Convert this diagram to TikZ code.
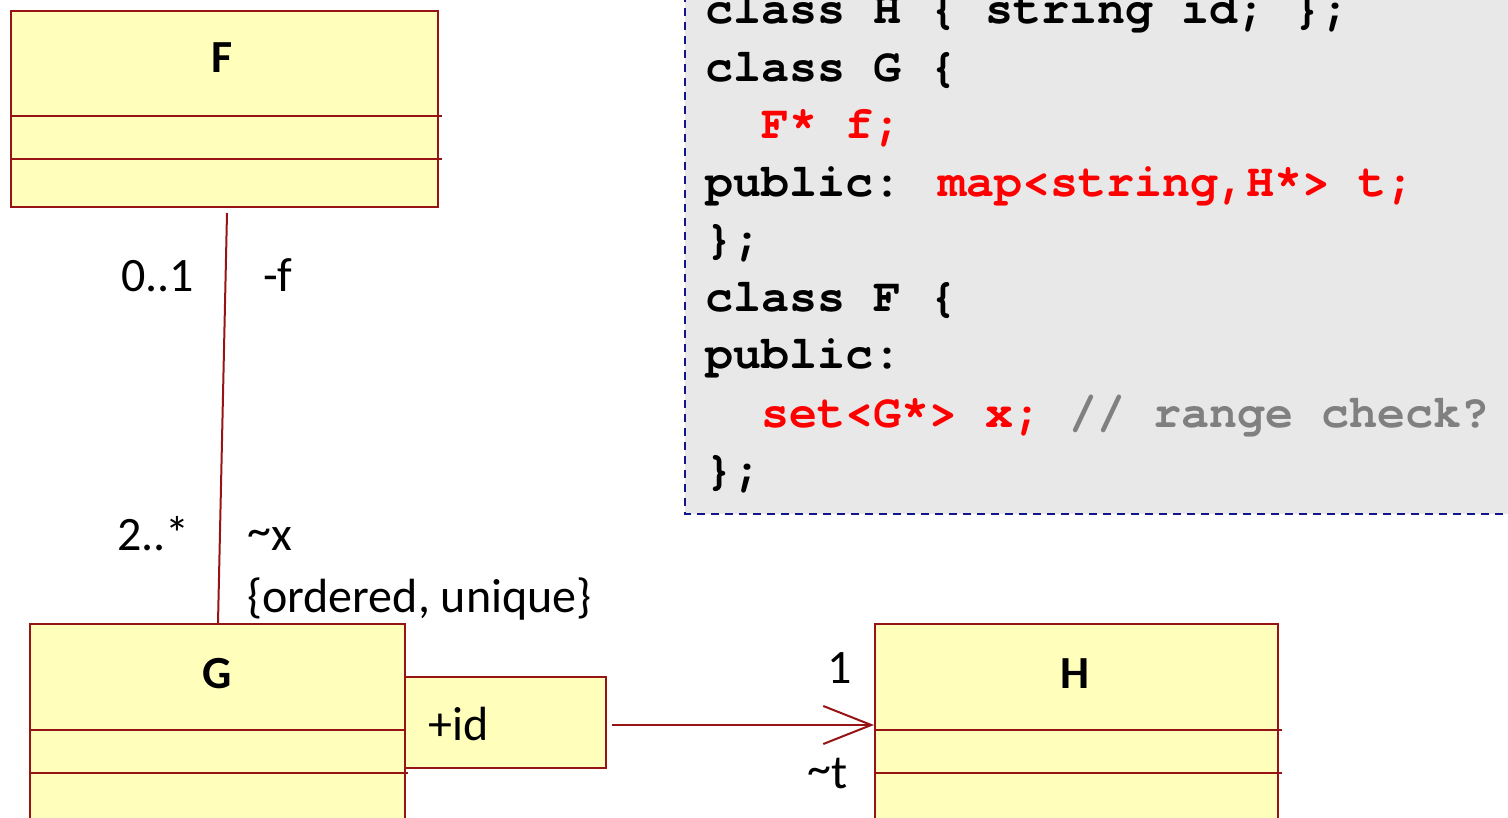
\documentclass[tikz,border=0pt]{standalone}
\usepackage{fontspec}
\setmainfont{Carlito}
\newfontfamily\codefont{texgyrecursor}[Extension=.otf, UprightFont=*-regular, BoldFont=*-bold]
\usetikzlibrary{arrows.meta}

\definecolor{umlred}{RGB}{150,20,20}
\definecolor{umlfill}{RGB}{255,255,187}
\definecolor{codebg}{RGB}{232,232,232}
\definecolor{codeframe}{RGB}{20,20,140}
\definecolor{codered}{RGB}{255,0,0}
\definecolor{codegray}{RGB}{128,128,128}

\tikzset{
  classbox/.style={draw=umlred, fill=umlfill, line width=2pt, anchor=north west, inner sep=0pt},
  compline/.style={draw=umlred, line width=2pt},
  classname/.style={font=\fontsize{46}{52}\selectfont\bfseries, anchor=base, inner sep=0pt},
  lbl/.style={font=\fontsize{48}{56}\selectfont, anchor=base west, inner sep=0pt},
  assoc/.style={draw=umlred, line width=2pt},
  codeline/.style={font=\codefont\bfseries\fontsize{46.7}{57.5}\selectfont, anchor=base west, inner sep=0pt},
}

\begin{document}
\begin{tikzpicture}[x=1pt, y=-1pt]
\useasboundingbox (0,0) rectangle (1508,818);
\clip (0,0) rectangle (1508,818);

% code listing
\path[fill=codebg, draw=codeframe, line width=2pt, dash pattern=on 8pt off 6pt]
  (685,-20) rectangle (1540,514);
\node[codeline] (c1) at (705,24)    {class H \{ string id; \};};
\node[codeline] (c2) at (705,82)    {class G \{};
\node[codeline, text=codered] (c3) at (761,139) {F* f;};
\node[codeline] (c4) at (705,197)   {public: \textcolor{codered}{map<string,H*> t;}};
\node[codeline] (c5) at (705,254)   {\};};
\node[codeline] (c6) at (705,312)   {class F \{};
\node[codeline] (c7) at (705,369)   {public:};
\node[codeline] (c8) at (761,427)   {\textcolor{codered}{set<G*> x;} \textcolor{codegray}{// range check?}};
\node[codeline] (c9) at (705,484)   {\};};

% class F
\node[classbox, minimum width=427pt, minimum height=196pt] (F) at (10,10) {};
\draw[compline] ([yshift=-106pt]F.north west) -- ++(432,0);
\draw[compline] ([yshift=-149pt]F.north west) -- ++(432,0);
\node[classname] (Ft) at (222,73) {F};

% class G
\node[classbox, minimum width=375pt, minimum height=260pt] (G) at (29,623) {};
\draw[compline] ([yshift=-107pt]G.north west) -- ++(375,0);
\draw[compline] ([yshift=-150pt]G.north west) -- ++(379,0);
\node[classname] (Gt) at (217,688) {G};

% qualifier of G
\node[classbox, minimum width=201pt, minimum height=91pt] (id) at (404,676) {};
\node[lbl] (idt) at (428,740) {+id};

% class H
\node[classbox, minimum width=403pt, minimum height=260pt] (H) at (874,623) {};
\draw[compline] ([yshift=-107pt]H.north west) -- ++(408,0);
\draw[compline] ([yshift=-150pt]H.north west) -- ++(408,0);
\node[classname] (Ht) at (1075,688) {H};

% association F -- G
\draw[assoc] ([xshift=2.5pt, yshift=-5pt]F.south) -- ([xshift=0.5pt]G.north);
\node[lbl] (mF) at (121,292) {0..1};
\node[lbl] (rF) at (263,292) {-f};
\node[lbl] (mG) at (117,550) {2..*};
\node[lbl] (rG) at (247,550) {\raisebox{4pt}{\textasciitilde}x};
\node[lbl] (cG) at (247,612) {\{ordered, unique\}};

% qualified association G -> H
\draw[assoc, -{Straight Barb[length=48pt, width=38pt, line width=2pt]}]
  ([xshift=5pt, yshift=-2.5pt]id.east) -- ([yshift=-2.5pt]id.east -| H.west);
\node[lbl] (mH) at (827,683) {1};
\node[lbl] (rH) at (807,788) {\raisebox{4pt}{\textasciitilde}t};
\end{tikzpicture}
\end{document}
